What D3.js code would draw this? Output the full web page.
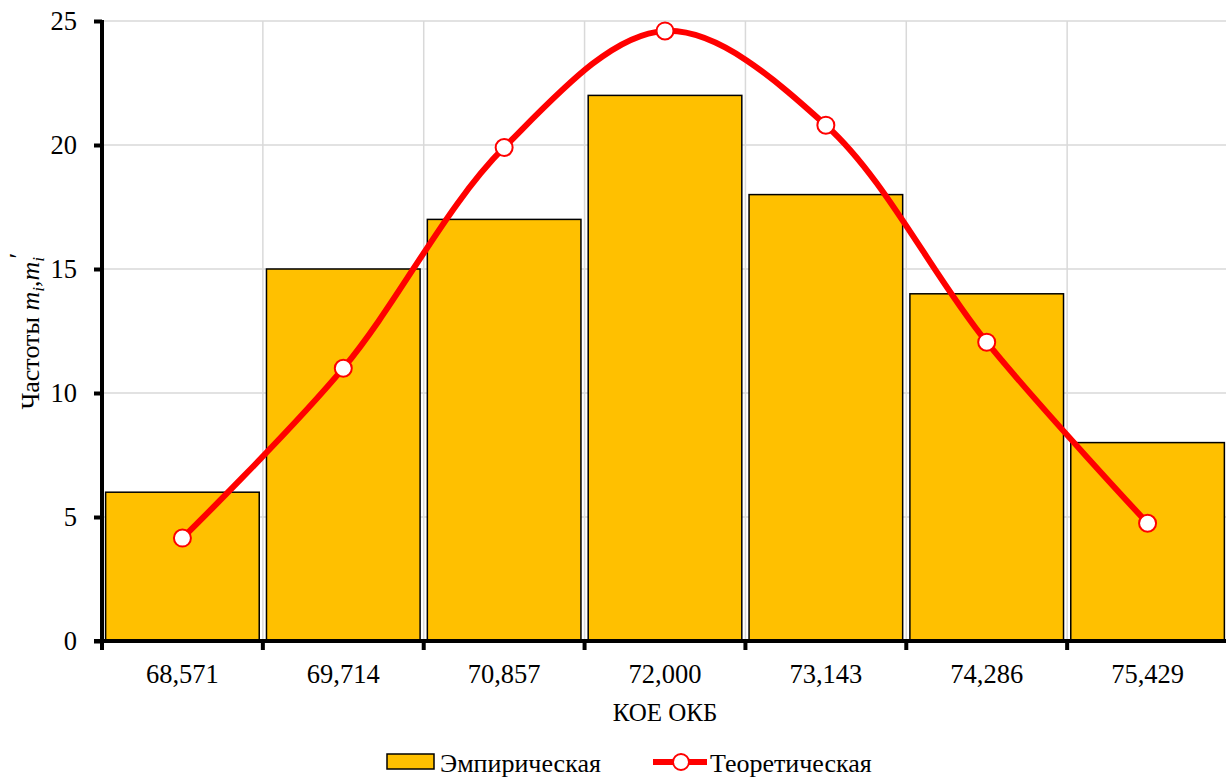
<!DOCTYPE html>
<html>
<head>
<meta charset="utf-8">
<script src="https://cdn.jsdelivr.net/npm/d3@7"></script>
<style>
  body { margin: 0; background: #fff; }
</style>
</head>
<body>
<svg id="chart" width="1226" height="778"></svg>
<script>
var categories = ["68,571", "69,714", "70,857", "72,000", "73,143", "74,286", "75,429"];
var empirical = [6, 15, 17, 22, 18, 14, 8];
var theoretical = [4.15, 11.0, 19.9, 24.6, 20.8, 12.05, 4.75];
var yTicks = [0, 5, 10, 15, 20, 25];

var FONT = "Liberation Serif";
var svg = d3.select("#chart");
var m = {left: 102, top: 21, right: -2, bottom: 137};
var W = 1226, H = 778;
var pw = W - m.left - m.right, ph = H - m.top - m.bottom;

var x = d3.scaleBand().domain(categories).range([m.left, m.left + pw]).paddingInner(0.045).paddingOuter(0.0225);
var xb = d3.scaleBand().domain(categories).range([m.left, m.left + pw]);
var y = d3.scaleLinear().domain([0, 25]).range([m.top + ph, m.top]);

// grid
svg.append("g").selectAll("line").data(yTicks.slice(1)).enter().append("line")
   .attr("x1", m.left).attr("x2", m.left + pw)
   .attr("y1", function(d) { return y(d); }).attr("y2", function(d) { return y(d); })
   .attr("stroke", "#d9d9d9").attr("stroke-width", 1.5);
svg.append("g").selectAll("line").data(categories.slice(1)).enter().append("line")
   .attr("x1", function(d) { return xb(d); }).attr("x2", function(d) { return xb(d); })
   .attr("y1", m.top).attr("y2", m.top + ph)
   .attr("stroke", "#d9d9d9").attr("stroke-width", 1.5);

// bars
svg.append("g").selectAll("rect").data(empirical).enter().append("rect")
   .attr("x", function(d, i) { return x(categories[i]); })
   .attr("width", x.bandwidth())
   .attr("y", function(d) { return y(d); })
   .attr("height", function(d) { return y(0) - y(d); })
   .attr("fill", "#ffc000").attr("stroke", "#000").attr("stroke-width", 1.5);

// axes
var yAxis = d3.axisLeft(y).tickValues(yTicks).tickSize(8).tickPadding(17);
var gy = svg.append("g").attr("transform", "translate(" + m.left + ",0)").call(yAxis)
   .attr("font-family", FONT).attr("font-size", 26.5);
gy.select(".domain").attr("stroke", "#000").attr("stroke-width", 4).attr("d", "M0," + (m.top - 1) + "V" + (m.top + ph));
gy.selectAll(".tick line").attr("stroke", "#000").attr("stroke-width", 4);
gy.selectAll(".tick text").attr("fill", "#000").attr("dy", "0.33em");

var xAxis = d3.axisBottom(xb).tickSize(0).tickPadding(23);
var gx = svg.append("g").attr("transform", "translate(0," + (m.top + ph) + ")").call(xAxis)
   .attr("font-family", FONT).attr("font-size", 26.5);
gx.select(".domain").attr("stroke", "#000").attr("stroke-width", 4).attr("d", "M" + (m.left - 8) + ",0H" + (m.left + pw));
gx.selectAll(".tick text").attr("fill", "#000");
gx.selectAll("line.bt").data(d3.range(categories.length + 1)).enter().append("line")
   .attr("class", "bt")
   .attr("x1", function(i) { return m.left + i * xb.step(); })
   .attr("x2", function(i) { return m.left + i * xb.step(); })
   .attr("y1", 0).attr("y2", 9).attr("stroke", "#000").attr("stroke-width", 4);

// theoretical line
var pts = theoretical.map(function(d, i) { return [xb(categories[i]) + xb.bandwidth() / 2, y(d)]; });
svg.append("path").datum(pts)
   .attr("d", d3.line().curve(d3.curveCatmullRom.alpha(0.5)))
   .attr("fill", "none").attr("stroke", "#ff0000").attr("stroke-width", 6);
svg.append("g").selectAll("circle").data(pts).enter().append("circle")
   .attr("cx", function(d) { return d[0]; }).attr("cy", function(d) { return d[1]; })
   .attr("r", 8.5).attr("fill", "#fff").attr("stroke", "#ff0000").attr("stroke-width", 2);

// axis titles
svg.append("text").attr("x", (m.left + W) / 2 + 1).attr("y", 721).attr("text-anchor", "middle")
   .attr("font-family", FONT).attr("font-size", 25).text("КОЕ ОКБ");

var yl = svg.append("text").attr("transform", "translate(39,332) rotate(-90)").attr("text-anchor", "middle")
   .attr("font-family", FONT).attr("font-size", 26);
yl.append("tspan").text("Частоты ");
yl.append("tspan").attr("font-style", "italic").text("m");
yl.append("tspan").attr("font-style", "italic").attr("font-size", 17).attr("dy", 5).text("i");
yl.append("tspan").attr("dy", -5).text(",");
yl.append("tspan").attr("font-style", "italic").text("m");
yl.append("tspan").attr("font-style", "italic").attr("font-size", 17).attr("dy", 5).text("i");
yl.append("tspan").attr("font-style", "italic").attr("dy", -17).attr("dx", -3).text("′");

// legend
var lg = svg.append("g").attr("font-family", FONT).attr("font-size", 26);
lg.append("rect").attr("x", 387).attr("y", 754).attr("width", 47).attr("height", 15)
  .attr("fill", "#ffc000").attr("stroke", "#000").attr("stroke-width", 1.5);
lg.append("text").attr("x", 440).attr("y", 772).text("Эмпирическая");
lg.append("line").attr("x1", 653).attr("x2", 707).attr("y1", 762).attr("y2", 762)
  .attr("stroke", "#ff0000").attr("stroke-width", 6);
lg.append("circle").attr("cx", 681).attr("cy", 762).attr("r", 8)
  .attr("fill", "#fff").attr("stroke", "#ff0000").attr("stroke-width", 2);
lg.append("text").attr("x", 710).attr("y", 772).text("Теоретическая");
</script>
</body>
</html>
